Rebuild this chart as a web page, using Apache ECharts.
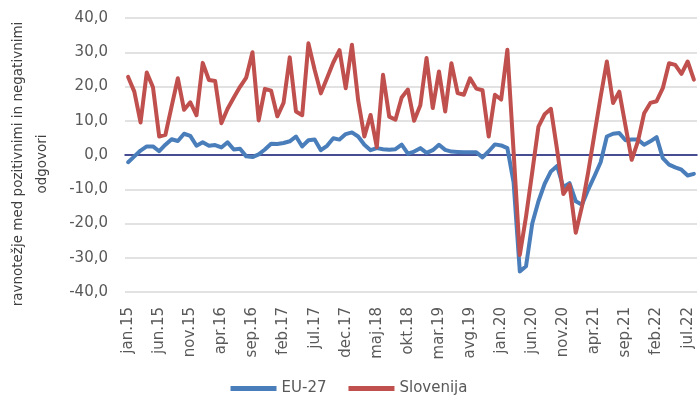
<!DOCTYPE html>
<html>
<head>
<meta charset="utf-8">
<script src="https://cdn.jsdelivr.net/npm/echarts@6/dist/echarts.min.js"></script>
<style>
  html, body { margin: 0; padding: 0; background: #fff; }
  #chart { width: 698px; height: 405px; }
</style>
</head>
<body>
<div id="chart"></div>
<script>
// months jan.15 .. avg.22
const monthNames = ["jan", "feb", "mar", "apr", "maj", "jun", "jul", "avg", "sep", "okt", "nov", "dec"];
const years = ["15", "16", "17", "18", "19", "20", "21", "22"];
const lastMonthIndex = 7; // avg in the last year

const eu27 = [
  -2.1, -0.4, 1.3, 2.5, 2.5, 1.1, 3.0, 4.6, 4.1, 6.2, 5.6, 2.7,
  3.7, 2.7, 2.9, 2.2, 3.7, 1.6, 1.8, -0.4, -0.6, 0.2, 1.6, 3.3,
  3.2, 3.5, 4.0, 5.4, 2.5, 4.3, 4.5, 1.4, 2.7, 4.9, 4.5, 6.1,
  6.6, 5.4, 3.0, 1.4, 2.0, 1.7, 1.5, 1.7, 3.0, 0.4, 1.0, 2.0,
  0.6, 1.4, 3.0, 1.5, 1.0, 0.9, 0.8, 0.8, 0.8, -0.7, 1.1, 3.1,
  2.8, 2.0, -8.0, -34.0, -32.5, -20.0, -13.5, -8.4, -4.8, -3.2, -9.4, -8.2,
  -13.5, -14.5, -10.1, -6.2, -2.1, 5.4, 6.2, 6.4, 4.3, 4.5, 4.5, 3.0,
  4.0, 5.2, -0.9, -2.8, -3.6, -4.3, -6.0, -5.5
];

const slovenija = [
  22.8, 18.5, 9.5, 24.1, 19.8, 5.4, 5.9, 14.2, 22.4, 13.2, 15.4, 11.6,
  26.9, 21.9, 21.6, 9.3, 13.5, 16.8, 19.9, 22.6, 30.0, 10.1, 19.3, 18.8,
  11.3, 15.2, 28.5, 12.7, 11.6, 32.6, 24.9, 18.0, 22.5, 27.0, 30.6, 19.5,
  32.2, 16.0, 5.4, 11.7, 2.3, 23.4, 11.2, 10.3, 16.8, 19.1, 10.0, 14.5,
  28.3, 13.7, 24.4, 12.7, 26.8, 18.1, 17.6, 22.4, 19.4, 18.9, 5.4, 17.6,
  16.2, 30.7, 1.0, -29.2, -18.0, -5.0, 8.3, 11.9, 13.5, 1.5, -11.4, -8.7,
  -22.7, -15.0, -5.0, 6.0, 17.0, 27.3, 15.2, 18.5, 8.5, -1.4, 4.0, 12.2,
  15.2, 15.7, 19.5, 26.8, 26.3, 23.7, 27.3, 22.0
];

const yTicks = { min: -40, max: 40, step: 10 };
const yTitle = "ravnotežje med pozitivnimi in negativnimi\nodgovori";

function buildCategories() {
  var out = [];
  for (var y = 0; y < years.length; y++) {
    var last = (y === years.length - 1) ? lastMonthIndex : 11;
    for (var m = 0; m <= last; m++) {
      out.push(monthNames[m] + "." + years[y]);
    }
  }
  return out;
}

const categories = buildCategories();
const font = "DejaVu Sans";

const option = {
  animation: false,
  backgroundColor: "#ffffff",
  grid: { left: 125, right: 1, top: 18, bottom: 113 },
  // y axis title, a bit below the middle of the plot like in the original
  graphic: [
    {
      type: "text",
      x: 30,
      y: 164,
      rotation: Math.PI / 2,
      silent: true,
      style: {
        text: yTitle,
        fontFamily: font,
        fontSize: 13.5,
        lineHeight: 24,
        fill: "#404040",
        align: "center",
        verticalAlign: "middle"
      }
    }
  ],
  legend: {
    bottom: 4,
    left: "center",
    icon: "rect",
    itemWidth: 46,
    itemHeight: 5,
    itemGap: 22,
    textStyle: { fontFamily: font, fontSize: 15, color: "#595959" },
    data: ["EU-27", "Slovenija"]
  },
  xAxis: [
    {
      // labels at the bottom
      type: "category",
      data: categories,
      boundaryGap: true,
      axisLine: { show: false, onZero: false },
      axisTick: { show: false },
      axisLabel: {
        interval: 4,
        rotate: 90,
        margin: 15,
        fontFamily: font,
        fontSize: 15,
        color: "#595959"
      }
    },
    {
      // dark line through 0
      type: "category",
      data: categories,
      boundaryGap: true,
      position: "bottom",
      axisLine: { show: true, onZero: true, lineStyle: { color: "#141c78", width: 1.5 } },
      axisTick: { show: false },
      axisLabel: { show: false },
      splitLine: { show: false }
    }
  ],
  yAxis: {
    type: "value",
    min: yTicks.min,
    max: yTicks.max,
    interval: yTicks.step,
    axisLine: { show: false },
    axisTick: { show: false },
    axisLabel: {
      margin: 17,
      fontFamily: font,
      fontSize: 15,
      color: "#595959",
      formatter: function (v) {
        return v.toFixed(1).replace(".", ",");
      }
    },
    splitLine: { lineStyle: { color: "#d9d9d9", width: 1.5 } }
  },
  series: [
    {
      name: "EU-27",
      type: "line",
      data: eu27,
      symbol: "none",
      color: "#4a7ebb",
      lineStyle: { width: 4, cap: "round", join: "round" }
    },
    {
      name: "Slovenija",
      type: "line",
      data: slovenija,
      symbol: "none",
      color: "#c0504d",
      lineStyle: { width: 4, cap: "round", join: "round" }
    }
  ]
};

const chart = echarts.init(document.getElementById("chart"));
chart.setOption(option);
</script>
</body>
</html>
